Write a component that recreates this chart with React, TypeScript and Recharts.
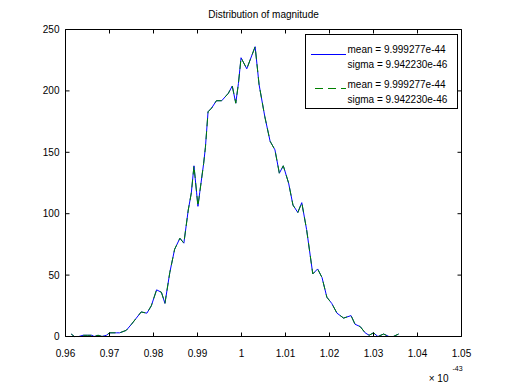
import React from "react";
import {
  LineChart,
  Line,
  XAxis,
  YAxis,
  Legend,
} from "recharts";

// bin centres (x 10^-43) and counts
const binCentres = [
  0.9613, 0.962, 0.963, 0.964, 0.965, 0.966, 0.9665, 0.9674, 0.9683, 0.9693,
  0.97, 0.9716, 0.9723, 0.9738, 0.975, 0.9761, 0.9772, 0.9785, 0.9795, 0.9807,
  0.9818, 0.9826, 0.9837, 0.9848, 0.986, 0.9869, 0.9879, 0.9886, 0.9892, 0.9898,
  0.9901, 0.9905, 0.9914, 0.9918, 0.9924, 0.9932, 0.9943, 0.9955, 0.997, 0.9979,
  0.9987, 0.9993, 0.9999, 1.0012, 1.0031, 1.004, 1.0053, 1.0065, 1.0076, 1.0086,
  1.0095, 1.0107, 1.0117, 1.0128, 1.0137, 1.0148, 1.0162, 1.0173, 1.0183, 1.0194,
  1.0205, 1.0217, 1.0232, 1.0249, 1.0258, 1.027, 1.0281, 1.029, 1.03, 1.031,
  1.0323, 1.0335, 1.0345, 1.0357,
];

const counts = [
  2, 0, 0, 1, 1, 1, 0, 1, 0, 1,
  3, 3, 3, 5, 10, 15, 20, 19, 25, 38,
  36, 27, 52, 71, 80, 76, 103, 117, 139, 117,
  106, 117, 141, 154, 183, 186, 192, 192, 198, 204,
  190, 206, 227, 218, 236, 205, 179, 159, 152, 133,
  139, 125, 107, 101, 109, 87, 51, 55, 48, 32,
  27, 19, 15, 17, 10, 8, 3, 1, 3, 0,
  2, 0, 0, 2,
];

const xTicks = [0.96, 0.97, 0.98, 0.99, 1, 1.01, 1.02, 1.03, 1.04, 1.05];
const xTickLabels = ["0.96", "0.97", "0.98", "0.99", "1", "1.01", "1.02", "1.03", "1.04", "1.05"];
const yTicks = [0, 50, 100, 150, 200, 250];
const yTickLabels = ["0", "50", "100", "150", "200", "250"];

const legendMeans = ["mean = 9.999277e-44", "mean = 9.999277e-44"];
const legendSigmas = ["sigma = 9.942230e-46", "sigma = 9.942230e-46"];

const TITLE = "Distribution of magnitude";
const FONT = "'Liberation Sans', Arial, Helvetica, sans-serif";
const TICK_LEN = 4;
const INK = "#000000";
const BLUE = "#0000ff";
const GREEN = "#008000";
const DASH = "8 5";

const data = binCentres.map((x, i) => ({ x, solid: counts[i], dashed: counts[i] }));

function BottomTick({ x, y, index }: any) {
  return (
    <g>
      <line x1={x} y1={y} x2={x} y2={y - TICK_LEN} stroke={INK} strokeWidth={1} />
      <text x={x} y={y + 20} textAnchor="middle" fontSize={10} fontFamily={FONT} fill={INK}>
        {xTickLabels[index]}
      </text>
    </g>
  );
}

function TopTick({ x, y }: any) {
  return <line x1={x} y1={y} x2={x} y2={y + TICK_LEN} stroke={INK} strokeWidth={1} />;
}

function LeftTick({ x, y, index }: any) {
  return (
    <g>
      <line x1={x} y1={y} x2={x + TICK_LEN} y2={y} stroke={INK} strokeWidth={1} />
      <text x={x - 6} y={y + 3.5} textAnchor="end" fontSize={10} fontFamily={FONT} fill={INK}>
        {yTickLabels[index]}
      </text>
    </g>
  );
}

function RightTick({ x, y }: any) {
  return <line x1={x} y1={y} x2={x - TICK_LEN} y2={y} stroke={INK} strokeWidth={1} />;
}

function TitleLabel({ viewBox }: any) {
  const cx = viewBox ? viewBox.x + viewBox.width / 2 : 263.5;
  return (
    <text x={cx} y={18} textAnchor="middle" fontSize={10} fontFamily={FONT} fill={INK}>
      {TITLE}
    </text>
  );
}

function ExponentLabel({ viewBox }: any) {
  const right = viewBox ? viewBox.x + viewBox.width : 461.5;
  return (
    <g fontFamily={FONT} fill={INK}>
      <text x={right - 13} y={382} textAnchor="end" fontSize={10}>
        {"\u00d7 10"}
      </text>
      <text x={right - 9} y={370.5} fontSize={7}>
        -43
      </text>
    </g>
  );
}

function LegendBox() {
  const colors = [BLUE, GREEN];
  const dashes = [undefined, DASH];
  return (
    <svg width={153} height={75} style={{ display: "block" }}>
      <rect x={0.5} y={0.5} width={152} height={74} fill="#ffffff" stroke={INK} strokeWidth={1} />
      {legendMeans.map((m, i) => (
        <g key={i} fontFamily={FONT} fontSize={10} fill={INK}>
          <line
            x1={6}
            x2={41}
            y1={20.5 + i * 34}
            y2={20.5 + i * 34}
            stroke={colors[i]}
            strokeDasharray={dashes[i]}
            strokeDashoffset={i ? -4 : 0}
          />
          <text x={42.5} y={19.3 + i * 34.5}>{m}</text>
          <text x={42.5} y={34.3 + i * 34.5}>{legendSigmas[i]}</text>
        </g>
      ))}
    </svg>
  );
}

export default function App() {
  return (
    <div style={{ width: 512, height: 384, background: "#ffffff" }}>
      <style>{"body{margin:0;background:#ffffff}"}</style>
      <LineChart
        width={512}
        height={384}
        data={data}
        margin={{ top: 28.5, right: 49.5, bottom: 27.5, left: 0 }}
      >
        <XAxis
          xAxisId="bottom"
          dataKey="x"
          type="number"
          domain={[0.96, 1.05]}
          ticks={xTicks}
          interval={0}
          height={20}
          tickSize={0}
          tickMargin={0}
          tickLine={false}
          stroke={INK}
          axisLine={{ stroke: INK, strokeWidth: 1 }}
          tick={<BottomTick />}
          label={{ content: <ExponentLabel /> }}
        />
        <XAxis
          xAxisId="top"
          orientation="top"
          dataKey="x"
          type="number"
          domain={[0.96, 1.05]}
          ticks={xTicks}
          interval={0}
          height={1}
          tickSize={0}
          tickMargin={0}
          tickLine={false}
          stroke={INK}
          axisLine={{ stroke: INK, strokeWidth: 1 }}
          tick={<TopTick />}
          label={{ content: <TitleLabel /> }}
        />
        <YAxis
          yAxisId="left"
          type="number"
          domain={[0, 250]}
          ticks={yTicks}
          interval={0}
          width={65.5}
          tickSize={0}
          tickMargin={0}
          tickLine={false}
          stroke={INK}
          axisLine={{ stroke: INK, strokeWidth: 1 }}
          tick={<LeftTick />}
        />
        <YAxis
          yAxisId="right"
          orientation="right"
          type="number"
          domain={[0, 250]}
          ticks={yTicks}
          interval={0}
          width={1}
          tickSize={0}
          tickMargin={0}
          tickLine={false}
          stroke={INK}
          axisLine={{ stroke: INK, strokeWidth: 1 }}
          tick={<RightTick />}
        />
        <Legend
          layout="vertical"
          align="center"
          verticalAlign="middle"
          content={<LegendBox />}
          wrapperStyle={{ left: 305, top: 34, width: 153, height: 75 }}
        />
        <Line
          xAxisId="bottom"
          yAxisId="left"
          dataKey="solid"
          name={legendMeans[0]}
          type="linear"
          stroke={BLUE}
          strokeWidth={1}
          dot={false}
          activeDot={false}
          isAnimationActive={false}
        />
        <Line
          xAxisId="bottom"
          yAxisId="left"
          dataKey="dashed"
          name={legendMeans[1]}
          type="linear"
          stroke={GREEN}
          strokeWidth={1}
          strokeDasharray={DASH}
          dot={false}
          activeDot={false}
          isAnimationActive={false}
        />
        {/* keep the top/right frame axes tied to the same data */}
        <Line
          xAxisId="top"
          yAxisId="right"
          dataKey="solid"
          stroke="none"
          legendType="none"
          dot={false}
          activeDot={false}
          isAnimationActive={false}
        />
      </LineChart>
    </div>
  );
}
